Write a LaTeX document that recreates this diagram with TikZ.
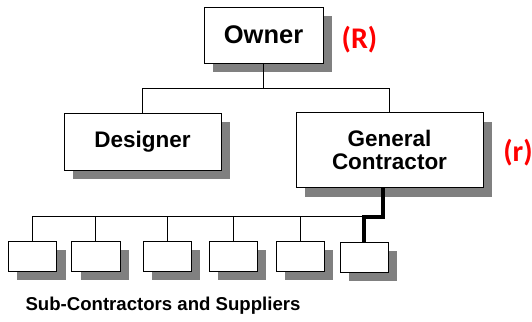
\documentclass[tikz,border=0pt]{standalone}
\usepackage{fontspec}
\setmainfont{Liberation Sans}
\newfontfamily\markfont{Carlito}
\usetikzlibrary{shadows}

\begin{document}
\begin{tikzpicture}[x=1pt, y=-1pt,
  box/.style={draw, fill=white, thin, inner sep=0pt, align=center, font=\bfseries,
    drop shadow={shadow xshift=9pt, shadow yshift=-9pt, fill=black!50, opacity=1}},
  subbox/.style={box, minimum width=48.5pt, minimum height=30.5pt},
  rolemark/.style={text=red, font=\markfont\bfseries\fontsize{30}{32}\selectfont},
  link/.style={draw, line width=0.9pt}]
\useasboundingbox (0,0) rectangle (532,321);

% Top
\node[box, minimum width=119pt, minimum height=56pt, font=\bfseries\fontsize{25.5}{28}\selectfont] (owner) at (263.5,35) {Owner};
\node[rolemark] (rbig) at (359.5,40) {(R)};

% Second level
\node[box, minimum width=157pt, minimum height=57pt, font=\bfseries\fontsize{22.5}{24}\selectfont] (designer) at (142.5,141.5) {Designer};
\node[box, minimum width=187pt, minimum height=75pt, font=\bfseries\fontsize{22.5}{23.5}\selectfont] (gc) at (389.5,150) {General\\Contractor};
\node[rolemark] (rsmall) at (518,153) {(r)};

\draw[link] (owner.south) -- ++(0,25) -| (designer.north);
\draw[link] (owner.south) -- ++(0,25) -| (gc.north);

% Sub-contractors
\node[subbox] (sub1) at (32.3,256) {};
\node[subbox] (sub2) at (95.8,256) {};
\node[subbox] (sub3) at (167.2,256) {};
\node[subbox] (sub4) at (233,256) {};
\node[subbox] (sub5) at (300.2,256) {};
\node[subbox] (sub6) at (364,257) {};

\coordinate (bus) at (383,216);
\foreach \i in {1,...,5}
  \draw[link] (bus) -| (sub\i.north);
\draw[line width=4pt] (gc.south -| bus) -- (383,217) -| (sub6.north);

\node[anchor=west, font=\bfseries\fontsize{18.6}{22}\selectfont] (label) at (22,306) {Sub-Contractors and Suppliers};
\end{tikzpicture}
\end{document}
